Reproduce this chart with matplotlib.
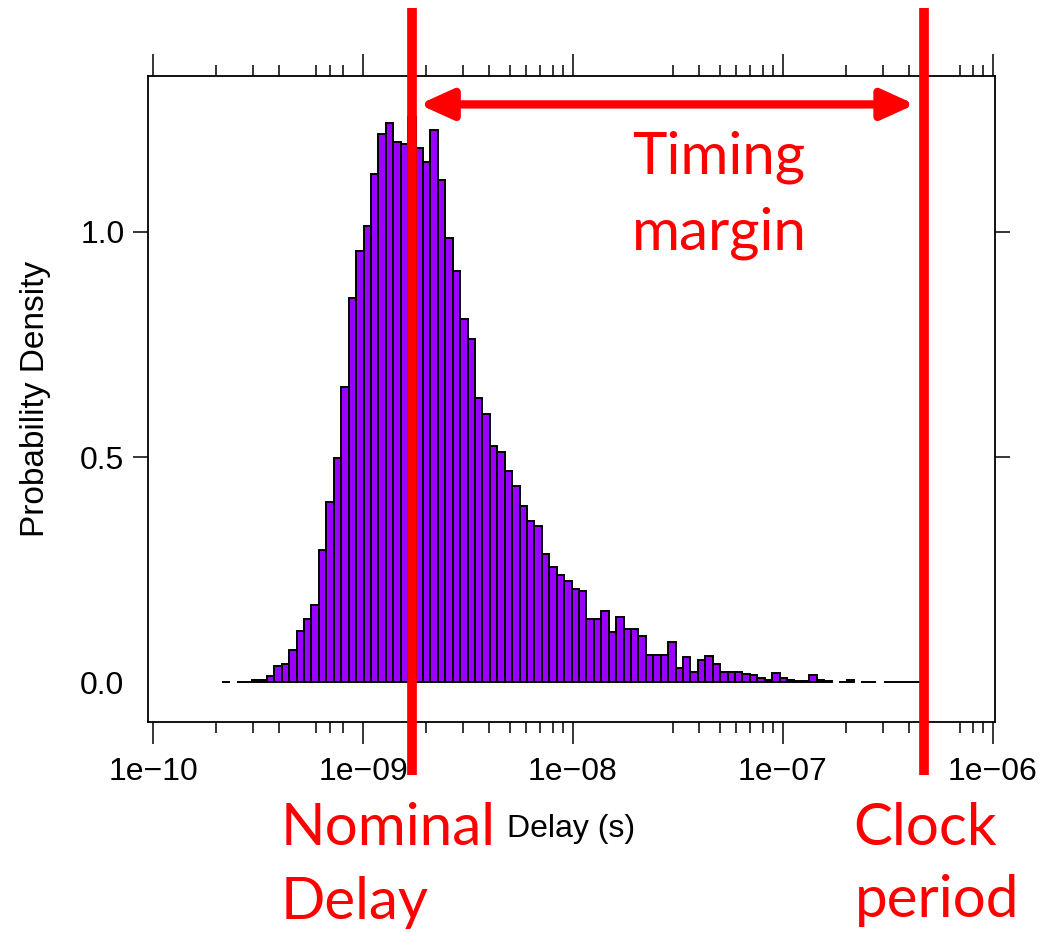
import numpy as np
import matplotlib
matplotlib.use('Agg')
import matplotlib.pyplot as plt
from matplotlib.ticker import FixedLocator, NullFormatter

# histogram of log10(delay): first bin edge, bin width (in decades), densities
log_start = -9.670
log_width = 0.03539
density = [
  0.002, 0.0, 0.002, 0.002, 0.006, 0.006, 0.015, 0.037, 0.042, 0.073,
  0.114, 0.140, 0.171, 0.294, 0.400, 0.498, 0.655, 0.852, 0.958, 1.012,
  1.128, 1.217, 1.240, 1.198, 1.195, 1.253, 1.185, 1.155, 1.225, 1.114,
  0.985, 0.913, 0.806, 0.762, 0.632, 0.596, 0.524, 0.511, 0.470, 0.435,
  0.391, 0.359, 0.347, 0.285, 0.256, 0.239, 0.225, 0.207, 0.203, 0.140,
  0.140, 0.159, 0.113, 0.145, 0.118, 0.118, 0.104, 0.060, 0.060, 0.060,
  0.090, 0.033, 0.056, 0.024, 0.051, 0.059, 0.042, 0.023, 0.023, 0.023,
  0.019, 0.016, 0.011, 0.006, 0.020, 0.010, 0.006, 0.004, 0.004, 0.016,
  0.005, 0.004, 0.0, 0.002, 0.006, 0.0, 0.002, 0.002, 0.0, 0.002,
  0.002, 0.002, 0.002, 0.002,
]

nominal_delay = 1.72e-9
clock_period = 4.7e-7
margin_span = (1.85e-9, 4.26e-7)

decades = [1e-10, 1e-9, 1e-8, 1e-7, 1e-6]
decade_labels = ['1e\u221210', '1e\u221209', '1e\u221208', '1e\u221207', '1e\u221206']
minor_ticks = [2e-10, 3e-10, 4e-10, 6e-10, 7e-10, 8e-10,
               2e-9, 3e-9, 4e-9, 5e-9, 6e-9, 7e-9, 8e-9, 9e-9,
               3e-8, 4e-8, 5e-8, 6e-8, 7e-8, 8e-8, 9e-8,
               2e-7, 3e-7, 4e-7, 7e-7, 8e-7, 9e-7]
y_ticks = [0.0, 0.5, 1.0]
y_labels = ['0.0', '0.5', '1.0']

W, H = 1043, 932
fig = plt.figure(figsize=(W / 100, H / 100), dpi=100)
ax = fig.add_axes([148 / W, 1 - 722 / H, (995 - 148) / W, (722 - 76) / H])

dens = np.array(density)
edges = 10 ** (log_start + log_width * np.arange(len(dens) + 1))
keep = dens > 0
ax.bar(edges[:-1][keep], dens[keep], width=np.diff(edges)[keep], align='edge',
       color='#9900ff', edgecolor='black', linewidth=1.4, zorder=2)

ax.set_xscale('log')
ax.set_xlim(10 ** -10.024, 10 ** -5.99)
ax.set_ylim(-0.0876, 1.345)

ax.xaxis.set_major_locator(FixedLocator(decades))
ax.set_xticklabels(decade_labels)
ax.xaxis.set_minor_locator(FixedLocator(minor_ticks))
ax.xaxis.set_minor_formatter(NullFormatter())
ax.set_yticks(y_ticks)
ax.set_yticklabels(y_labels)

tick_font = 'Liberation Sans'
ax.tick_params(axis='x', which='major', direction='out', length=16, width=1.1,
               top=True, bottom=True, labeltop=False, labelsize=23, pad=9)
ax.tick_params(axis='x', which='minor', direction='out', length=8, width=1.1,
               top=True, bottom=True)
ax.tick_params(axis='y', direction='out', length=11, width=1.1,
               left=True, right=True, labelright=False, labelsize=23, pad=6)
for lab in ax.get_xticklabels() + ax.get_yticklabels():
  lab.set_family(tick_font)
zero_tick = ax.yaxis.get_major_ticks()[0]
zero_tick.tick1line.set_visible(False)
zero_tick.tick2line.set_visible(False)

for s in ax.spines.values():
  s.set_linewidth(1.3)

ax.set_xlabel('Delay (s)', fontsize=23, family=tick_font, labelpad=20)
ax.set_ylabel('Probability Density', fontsize=24, family=tick_font, labelpad=21)

# annotations
red = '#ff0000'
for xv in (nominal_delay, clock_period):
  ax.plot([xv, xv], [-0.082, 1.105], transform=ax.get_xaxis_transform(),
          color=red, lw=7, solid_capstyle='butt', clip_on=False, zorder=5)

ax.annotate('', xy=(margin_span[0], 1.282), xytext=(margin_span[1], 1.282),
            arrowprops=dict(arrowstyle='<|-|>,head_length=1.1,head_width=0.5',
                            color=red, lw=6, shrinkA=0, shrinkB=0,
                            mutation_scale=18), zorder=5)

note = dict(fontsize=42, family='Lato', color=red, va='baseline')
fig.text(719 / W, 1 - 174 / H, 'Timing', ha='center', **note)
fig.text(719 / W, 1 - 249 / H, 'margin', ha='center', **note)
fig.text(281 / W, 1 - 845 / H, 'Nominal', ha='left', **note)
fig.text(281 / W, 1 - 919 / H, 'Delay', ha='left', **note)
fig.text(853 / W, 1 - 845 / H, 'Clock', ha='left', **note)
fig.text(855 / W, 1 - 917 / H, 'period', ha='left', **note)

fig.savefig('out.png', dpi=100)
